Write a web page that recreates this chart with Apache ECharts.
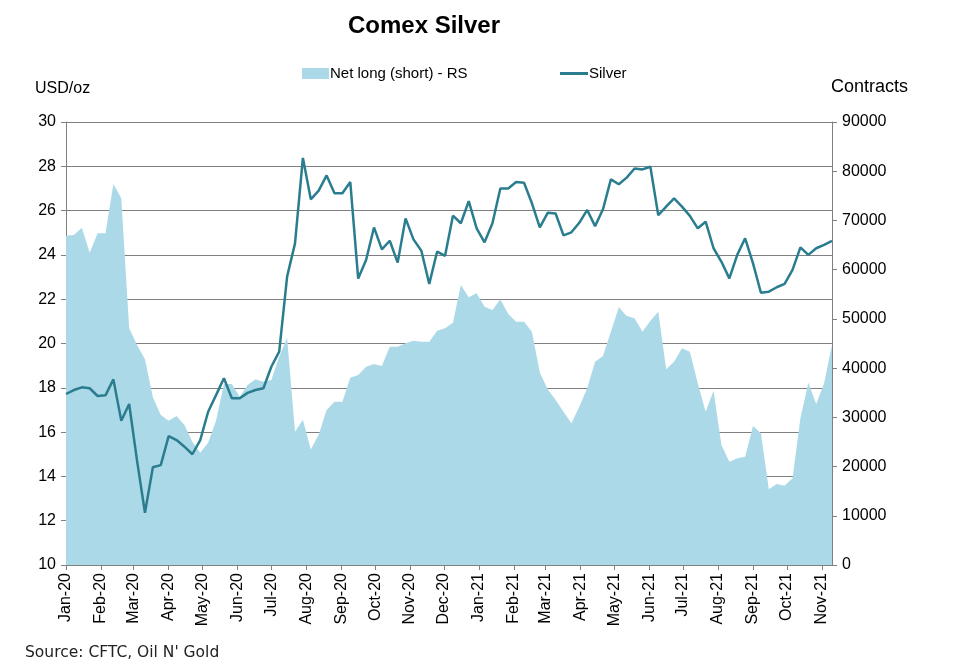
<!DOCTYPE html>
<html>
<head>
<meta charset="utf-8">
<script src="https://cdn.jsdelivr.net/npm/echarts@6/dist/echarts.min.js"></script>
<style>
html,body{margin:0;padding:0;background:#fff;}
#c{width:960px;height:669px;}
</style>
</head>
<body>
<div id="c"></div>
<script>
var dates = [
'2020-01-01','2020-01-08','2020-01-15','2020-01-22','2020-01-29',
'2020-02-05','2020-02-12','2020-02-19','2020-02-26',
'2020-03-04','2020-03-11','2020-03-18','2020-03-25',
'2020-04-01','2020-04-08','2020-04-15','2020-04-22','2020-04-29',
'2020-05-06','2020-05-13','2020-05-20','2020-05-27',
'2020-06-03','2020-06-10','2020-06-17','2020-06-24',
'2020-07-01','2020-07-08','2020-07-15','2020-07-22','2020-07-29',
'2020-08-05','2020-08-12','2020-08-19','2020-08-26',
'2020-09-02','2020-09-09','2020-09-16','2020-09-23','2020-09-30',
'2020-10-07','2020-10-14','2020-10-21','2020-10-28',
'2020-11-04','2020-11-11','2020-11-18','2020-11-25',
'2020-12-02','2020-12-09','2020-12-16','2020-12-23','2020-12-30',
'2021-01-06','2021-01-13','2021-01-20','2021-01-27',
'2021-02-03','2021-02-10','2021-02-17','2021-02-24',
'2021-03-03','2021-03-10','2021-03-17','2021-03-24','2021-03-31',
'2021-04-07','2021-04-14','2021-04-21','2021-04-28',
'2021-05-05','2021-05-12','2021-05-19','2021-05-26',
'2021-06-02','2021-06-09','2021-06-16','2021-06-23','2021-06-30',
'2021-07-07','2021-07-14','2021-07-21','2021-07-28',
'2021-08-04','2021-08-11','2021-08-18','2021-08-25',
'2021-09-01','2021-09-08','2021-09-15','2021-09-22','2021-09-29',
'2021-10-06','2021-10-13','2021-10-20','2021-10-27',
'2021-11-03','2021-11-10'
];

var silver = [
17.72, 17.90, 18.02, 17.98, 17.63, 17.66, 18.38, 16.51, 17.27, 14.70,
12.36, 14.41, 14.51, 15.82, 15.64, 15.34, 15.00, 15.64, 16.92, 17.67,
18.43, 17.53, 17.53, 17.77, 17.90, 17.98, 18.95, 19.63, 23.02, 24.52,
28.38, 26.51, 26.90, 27.59, 26.78, 26.78, 27.29, 22.93, 23.77, 25.24,
24.25, 24.64, 23.65, 25.65, 24.70, 24.19, 22.69, 24.15, 23.96, 25.77,
25.43, 26.43, 25.20, 24.57, 25.43, 27.00, 27.00, 27.29, 27.26, 26.33,
25.24, 25.90, 25.87, 24.88, 25.02, 25.45, 26.03, 25.30, 26.06, 27.41,
27.19, 27.49, 27.90, 27.86, 27.98, 25.79, 26.18, 26.55, 26.18, 25.76,
25.20, 25.50, 24.30, 23.69, 22.94, 24.00, 24.75, 23.62, 22.29, 22.34,
22.54, 22.69, 23.32, 24.34, 24.00, 24.30, 24.45, 24.63
];

var netLong = [
66900, 67050, 68540, 63460, 67400, 67400, 77420, 74510, 48100, 44700,
41800, 34080, 30480, 29330, 30280, 28450, 25060, 22820, 24850, 29330,
36780, 36780, 34200, 36580, 37730, 37250, 37590, 42330, 46190, 27090,
29530, 23440, 26480, 31500, 33180, 33180, 38060, 38610, 40300, 40840,
40440, 44360, 44360, 45050, 45580, 45380, 45380, 47610, 48100, 49240,
56900, 54400, 55210, 52490, 51820, 53990, 51000, 49440, 49440, 47410,
39100, 35700, 33530, 31150, 28790, 32170, 35900, 41310, 42470, 47410,
52360, 50600, 50130, 47410, 49640, 51470, 39760, 41310, 44030, 43340,
36920, 31150, 35420, 24380, 20990, 21680, 22010, 28240, 26760, 15380,
16460, 16110, 17620, 29810, 37040, 32710, 36920, 44700
];

var monthNames = ['Jan','Feb','Mar','Apr','May','Jun','Jul','Aug','Sep','Oct','Nov','Dec'];

function pairs(vals) {
  var out = [];
  for (var i = 0; i < dates.length; i++) out.push([dates[i], vals[i]]);
  return out;
}

var chart = echarts.init(document.getElementById('c'), null, {renderer: 'canvas'});
var font = 'Liberation Sans, Arial, sans-serif';
var DAY = 86400000;

chart.setOption({
  backgroundColor: '#ffffff',
  animation: false,
  title: {
    text: 'Comex Silver',
    left: 419, top: 9, textAlign: 'center',
    textStyle: {fontFamily: font, fontWeight: 'bold', fontSize: 24, color: '#000'}
  },
  legend: [
    {
      data: [{name: 'Net long (short) - RS', icon: 'rect'}],
      left: 297, top: 61,
      itemWidth: 27, itemHeight: 11,
      textStyle: {fontFamily: font, fontSize: 15, color: '#000', padding: [0,0,0,-4]}
    },
    {
      data: [{name: 'Silver', icon: 'rect'}],
      left: 555, top: 61,
      itemWidth: 28, itemHeight: 3,
      textStyle: {fontFamily: font, fontSize: 15, color: '#000', padding: [0,0,0,-4]}
    }
  ],
  graphic: [
    {type: 'text', left: 35, top: 81, style: {text: 'USD/oz', font: '16px ' + font, fill: '#000'}},
    {type: 'text', left: 831, top: 78, style: {text: 'Contracts', font: '18px ' + font, fill: '#000'}},
    {type: 'text', left: 25, top: 645, style: {text: "Source: CFTC, Oil N' Gold", font: '15.5px DejaVu Sans, sans-serif', fill: '#222'}}
  ],
  grid: {left: 66, right: 128, top: 122, bottom: 104},
  xAxis: {
    type: 'time',
    min: '2020-01-01',
    max: '2021-11-10',
    minInterval: 28 * DAY,
    maxInterval: 31 * DAY,
    axisLine: {show: true, lineStyle: {color: '#808080', width: 1}},
    axisTick: {show: true, length: 5, lineStyle: {color: '#808080'}},
    splitLine: {show: false},
    axisLabel: {
      rotate: 90,
      margin: 8,
      fontFamily: font, fontSize: 16, color: '#000',
      showMaxLabel: false,
      formatter: function (v) {
        var d = new Date(v);
        var y = String(d.getFullYear()).slice(2);
        return monthNames[d.getMonth()] + '-' + y;
      }
    }
  },
  yAxis: [
    {
      type: 'value', min: 10, max: 30, interval: 2,
      axisLine: {show: true, lineStyle: {color: '#808080'}},
      axisTick: {show: true, length: 5, lineStyle: {color: '#808080'}},
      splitLine: {show: true, lineStyle: {color: '#808080', width: 1}},
      axisLabel: {fontFamily: font, fontSize: 16, color: '#000', margin: 10}
    },
    {
      type: 'value', min: 0, max: 90000, interval: 10000,
      position: 'right',
      axisLine: {show: true, lineStyle: {color: '#808080'}},
      axisTick: {show: true, length: 5, lineStyle: {color: '#808080'}},
      splitLine: {show: false},
      axisLabel: {
        fontFamily: font, fontSize: 16, color: '#000', margin: 10,
        formatter: function (v) { return String(v); }
      }
    }
  ],
  series: [
    {
      name: 'Net long (short) - RS',
      type: 'line',
      yAxisIndex: 1,
      data: pairs(netLong),
      symbol: 'none',
      lineStyle: {width: 0, color: '#acd9e8'},
      itemStyle: {color: '#acd9e8'},
      areaStyle: {color: '#acd9e8', opacity: 1},
      z: 1
    },
    {
      name: 'Silver',
      type: 'line',
      yAxisIndex: 0,
      data: pairs(silver),
      symbol: 'none',
      lineStyle: {width: 2.5, color: '#2a7d8f'},
      itemStyle: {color: '#2a7d8f'},
      z: 3
    }
  ]
});
</script>
</body>
</html>
